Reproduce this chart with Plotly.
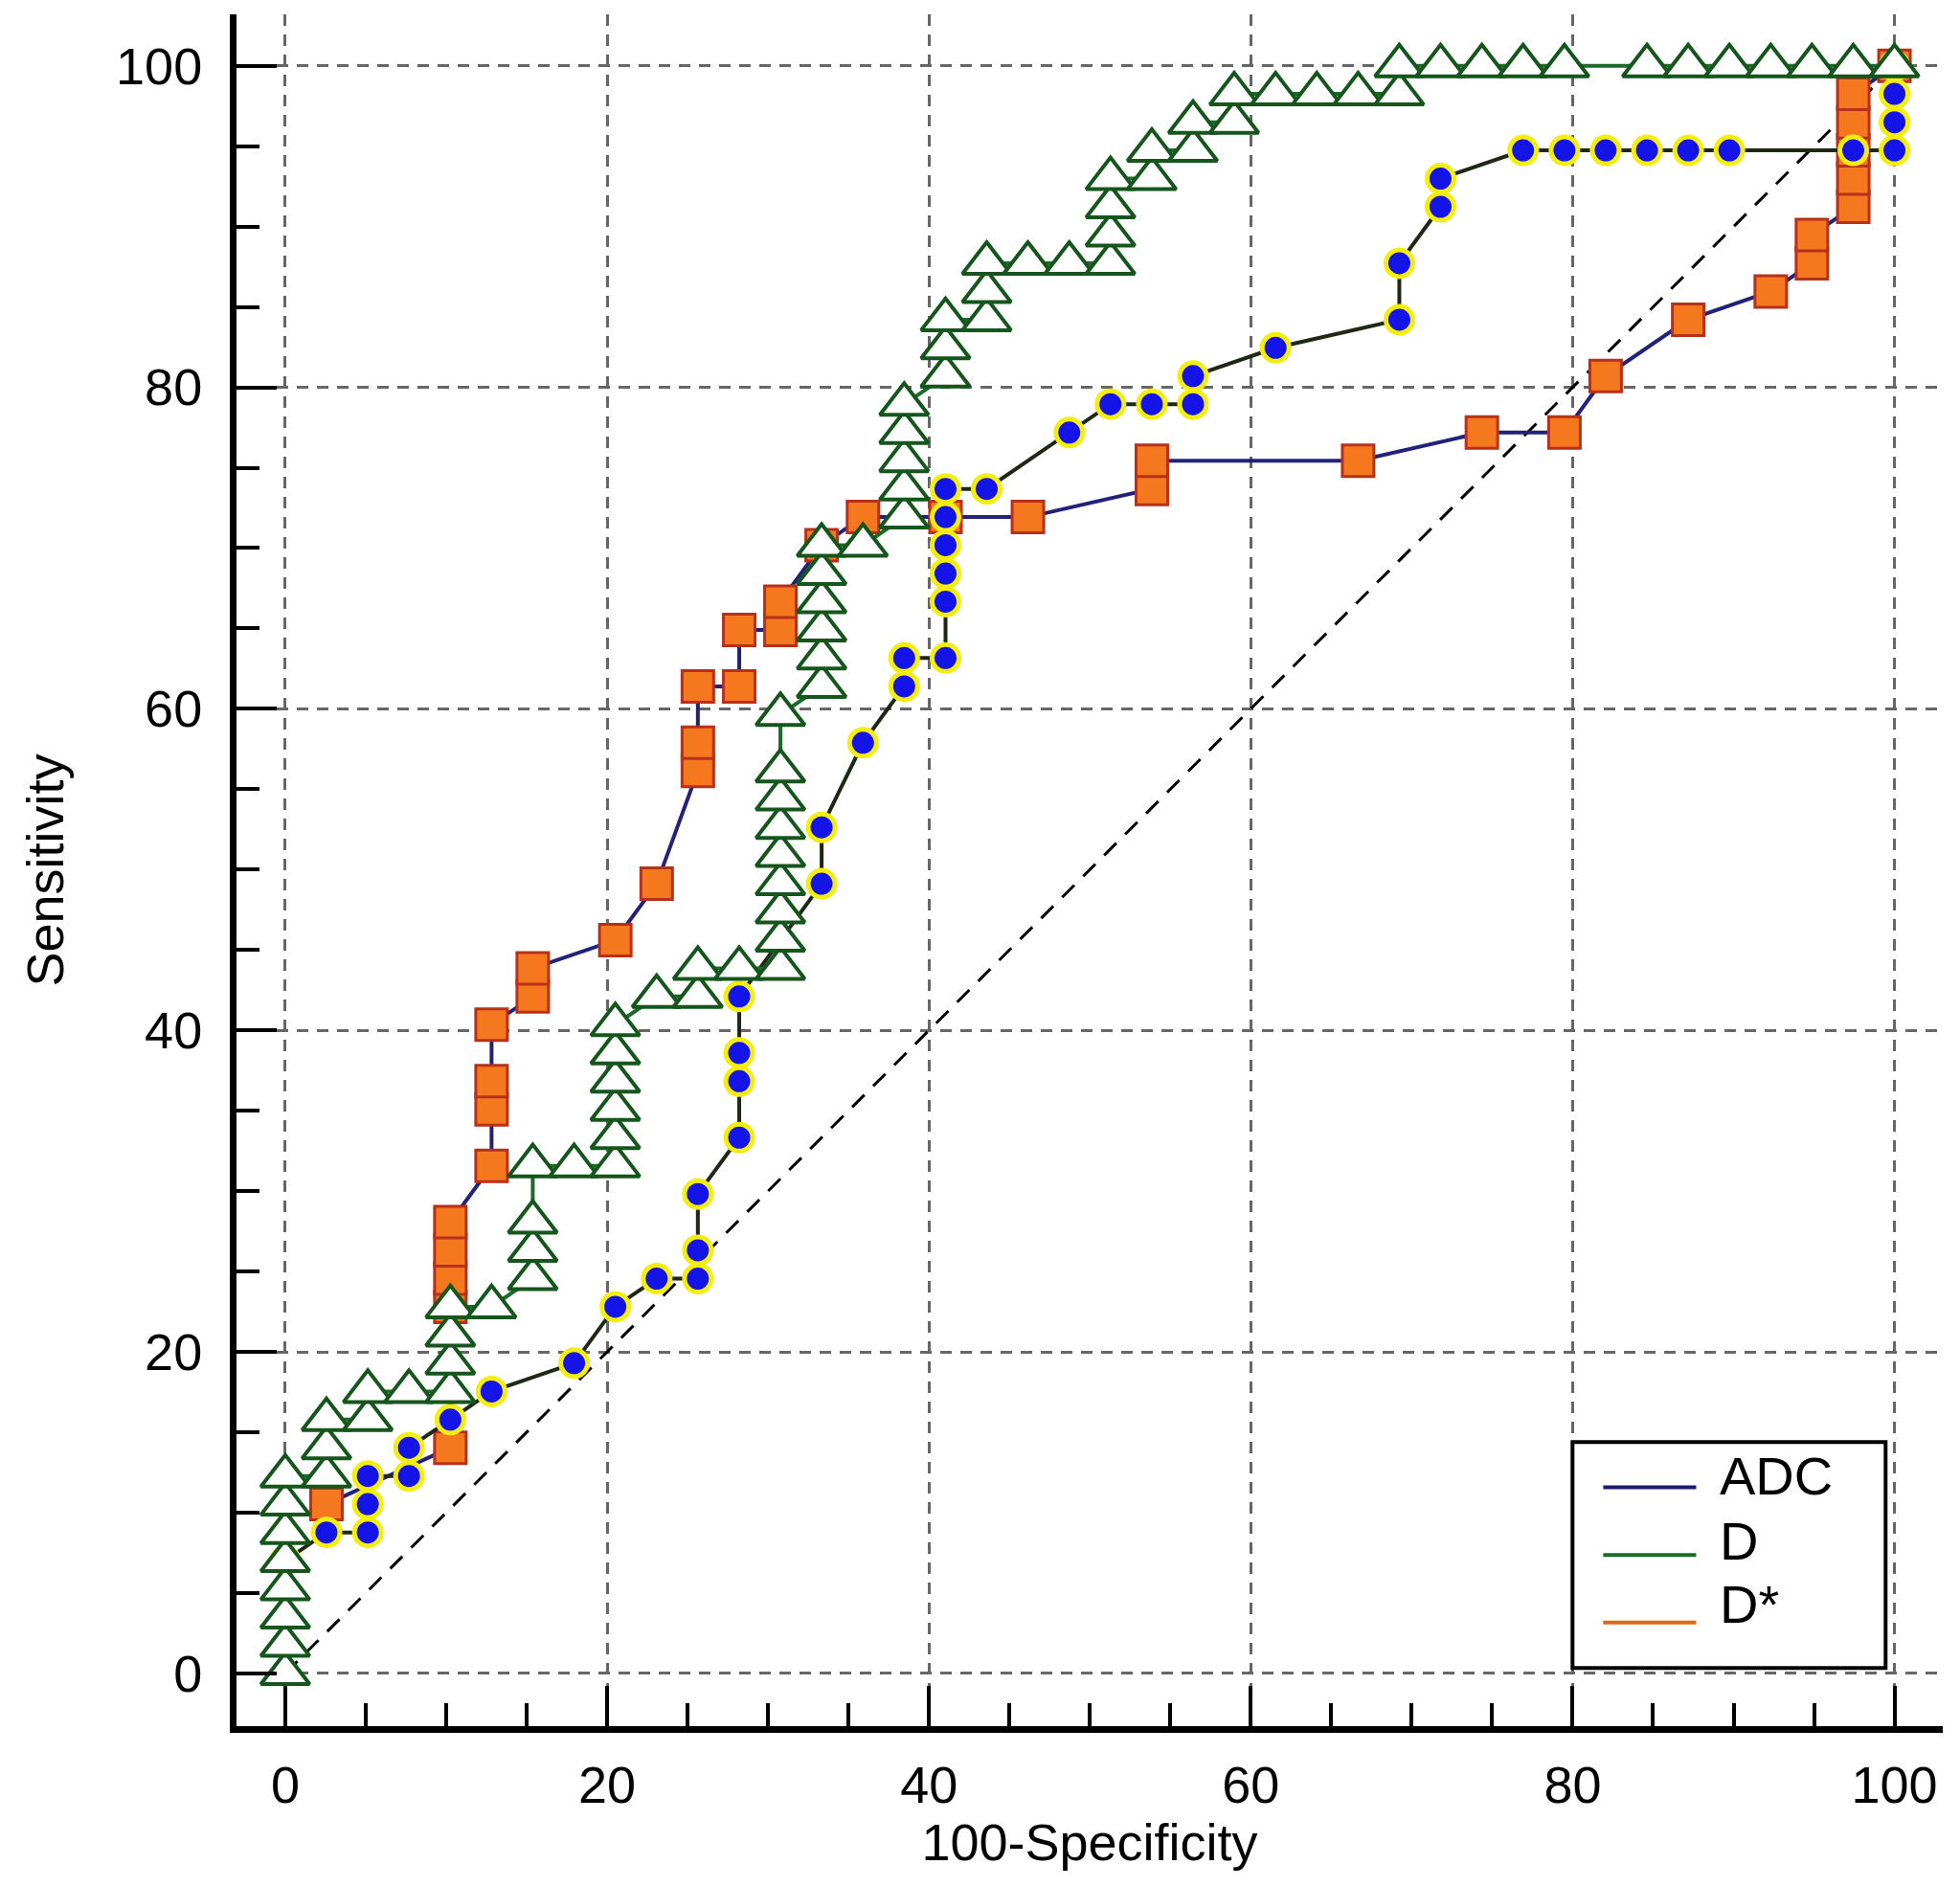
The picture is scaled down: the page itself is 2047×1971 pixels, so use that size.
import plotly.graph_objects as go

# ---------------- data ----------------
series_names = ["ADC", "D", "D*"]
tick_values = [0, 20, 40, 60, 80, 100]
x_title = "100-Specificity"
y_title = "Sensitivity"

diag_x = [0, 100]
diag_y = [0, 100]

adc_x = [2.56, 10.26, 10.26, 10.26, 10.26, 10.26, 12.82, 12.82, 12.82, 12.82,
         15.38, 15.38, 20.51, 23.08, 25.64, 25.64, 25.64, 28.21, 28.21, 30.77, 30.77,
         33.33, 35.90, 41.03, 46.15, 53.85, 53.85, 66.67, 74.36, 79.49, 82.05, 87.18,
         92.31, 94.87, 94.87, 97.44, 97.44, 97.44, 97.44, 97.44, 100]
adc_y = [10.53, 14.04, 22.81, 24.56, 26.32, 28.07, 31.58, 35.09, 36.84, 40.35,
         42.11, 43.86, 45.61, 49.12, 56.14, 57.89, 61.40, 61.40, 64.91, 64.91, 66.67,
         70.18, 71.93, 71.93, 71.93, 73.68, 75.44, 75.44, 77.19, 77.19, 80.70, 84.21,
         85.96, 87.72, 89.47, 91.23, 92.98, 94.74, 96.49, 98.25, 100]

d_x = [0, 0, 0, 0, 0, 0, 0, 0,
       2.56, 2.56, 2.56,
       5.13, 5.13,
       7.69,
       10.26, 10.26, 10.26, 10.26,
       12.82,
       15.38, 15.38, 15.38, 15.38,
       17.95,
       20.51, 20.51, 20.51, 20.51, 20.51, 20.51,
       23.08,
       25.64, 25.64,
       28.21,
       30.77, 30.77, 30.77, 30.77, 30.77, 30.77, 30.77, 30.77, 30.77,
       33.33, 33.33, 33.33, 33.33, 33.33, 33.33,
       35.90,
       38.46, 38.46, 38.46, 38.46, 38.46,
       41.03, 41.03, 41.03,
       43.59, 43.59, 43.59,
       46.15,
       48.72,
       51.28, 51.28, 51.28, 51.28,
       53.85, 53.85,
       56.41, 56.41,
       58.97, 58.97,
       61.54, 64.10, 66.67,
       69.23, 69.23,
       71.79, 74.36, 76.92, 79.49,
       84.62, 87.18, 89.74, 92.31, 94.87, 97.44, 100]
d_y = [0, 1.75, 3.51, 5.26, 7.02, 8.77, 10.53, 12.28,
       12.28, 14.04, 15.79,
       15.79, 17.54,
       17.54,
       17.54, 19.30, 21.05, 22.81,
       22.81,
       24.56, 26.32, 28.07, 31.58,
       31.58,
       31.58, 33.33, 35.09, 36.84, 38.60, 40.35,
       42.11,
       42.11, 43.86,
       43.86,
       43.86, 45.61, 47.37, 49.12, 50.88, 52.63, 54.39, 56.14, 59.65,
       61.40, 63.16, 64.91, 66.67, 68.42, 70.18,
       70.18,
       71.93, 73.68, 75.44, 77.19, 78.95,
       80.70, 82.46, 84.21,
       84.21, 85.96, 87.72,
       87.72,
       87.72,
       87.72, 89.47, 91.23, 92.98,
       92.98, 94.74,
       94.74, 96.49,
       96.49, 98.25,
       98.25, 98.25, 98.25,
       98.25, 100,
       100, 100, 100, 100,
       100, 100, 100, 100, 100, 100, 100]

dstar_x = [0, 2.56, 5.13, 5.13, 5.13, 7.69, 7.69, 10.26, 12.82, 17.95, 20.51,
           23.08, 25.64, 25.64, 25.64, 28.21, 28.21, 28.21, 28.21, 33.33, 33.33,
           35.90, 38.46, 38.46, 41.03, 41.03, 41.03, 41.03, 41.03, 41.03, 43.59,
           48.72, 51.28, 53.85, 56.41, 56.41, 61.54, 69.23, 69.23, 71.79, 71.79,
           76.92, 79.49, 82.05, 84.62, 87.18, 89.74, 97.44, 100, 100, 100, 100]
dstar_y = [7.02, 8.77, 8.77, 10.53, 12.28, 12.28, 14.04, 15.79, 17.54, 19.30, 22.81,
           24.56, 24.56, 26.32, 29.82, 33.33, 36.84, 38.60, 42.11, 49.12, 52.63,
           57.89, 61.40, 63.16, 63.16, 66.67, 68.42, 70.18, 71.93, 73.68, 73.68,
           77.19, 78.95, 78.95, 78.95, 80.70, 82.46, 84.21, 87.72, 91.23, 92.98,
           94.74, 94.74, 94.74, 94.74, 94.74, 94.74, 94.74, 94.74, 96.49, 98.25, 100]

legend_colors = ["#1c1c6e", "#1b6b2a", "#e0661a"]

# ---------------- figure ----------------
FONT = "Liberation Sans, Arial, Helvetica, sans-serif"

fig = go.Figure()

fig.add_trace(go.Scatter(
    x=diag_x, y=diag_y, mode="lines", showlegend=False, hoverinfo="skip",
    line=dict(color="black", width=3, dash="18px,13px")))

fig.add_trace(go.Scatter(
    x=adc_x, y=adc_y, mode="lines+markers", name=series_names[0], showlegend=False,
    line=dict(color="#22227a", width=4),
    marker=dict(symbol="square", size=33, color="#f5781e",
                line=dict(color="#b8301a", width=3))))

fig.add_trace(go.Scatter(
    x=dstar_x, y=dstar_y, mode="lines+markers", name=series_names[2], showlegend=False,
    line=dict(color="#1e2814", width=4),
    marker=dict(symbol="circle", size=28, color="#1414e6",
                line=dict(color="#f4ee10", width=5))))

fig.add_trace(go.Scatter(
    x=d_x, y=d_y, mode="lines+markers", name=series_names[1], showlegend=False,
    line=dict(color="#1b6b2a", width=4),
    marker=dict(symbol="triangle-up", size=44, color="white",
                line=dict(color="#15561c", width=4))))

axis_common = dict(
    tickvals=tick_values,
    ticks="inside", ticklen=42, tickwidth=4, tickcolor="black",
    showline=True, linewidth=7, linecolor="black", mirror=False,
    showgrid=True, gridcolor="#666666", gridwidth=3, griddash="12px,9px",
    zeroline=False,
    minor=dict(dtick=5, tick0=0, ticks="inside", ticklen=24, tickwidth=4,
               tickcolor="black", showgrid=False),
    tickfont=dict(family=FONT, size=54, color="black"),
)

fig.update_xaxes(range=[-3.03, 103.0], ticklabelstandoff=8,
                 title=dict(text=x_title, font=dict(family=FONT, size=54, color="black"),
                            standoff=6),
                 **axis_common)
fig.update_yaxes(range=[-3.28, 103.2], ticklabelstandoff=18,
                 title=dict(text=y_title, font=dict(family=FONT, size=54, color="black"),
                            standoff=40),
                 **axis_common)

# ---------------- legend box (lines + real text) ----------------
shapes = [dict(type="rect", xref="paper", yref="paper",
               x0=0.7830, x1=0.9665, y0=0.0340, y1=0.1660,
               line=dict(color="black", width=4), fillcolor="white", layer="above")]
row_line_y = [0.1395, 0.1000, 0.0605]
row_text_y = [0.1462, 0.1085, 0.0712]
annotations = []
for name, col, ly, ty in zip(series_names, legend_colors, row_line_y, row_text_y):
    shapes.append(dict(type="line", xref="paper", yref="paper",
                       x0=0.8010, x1=0.8555, y0=ly, y1=ly,
                       line=dict(color=col, width=4), layer="above"))
    annotations.append(dict(xref="paper", yref="paper", x=0.8680, y=ty,
                            xanchor="left", yanchor="middle", showarrow=False,
                            text=name, font=dict(family=FONT, size=56, color="black")))

fig.update_layout(
    width=2047, height=1971,
    margin=dict(l=239, r=26, t=7, b=176, autoexpand=False),
    paper_bgcolor="white", plot_bgcolor="white",
    showlegend=False,
    shapes=shapes, annotations=annotations,
    font=dict(family=FONT, color="black"),
)

fig.write_html("out.html")
